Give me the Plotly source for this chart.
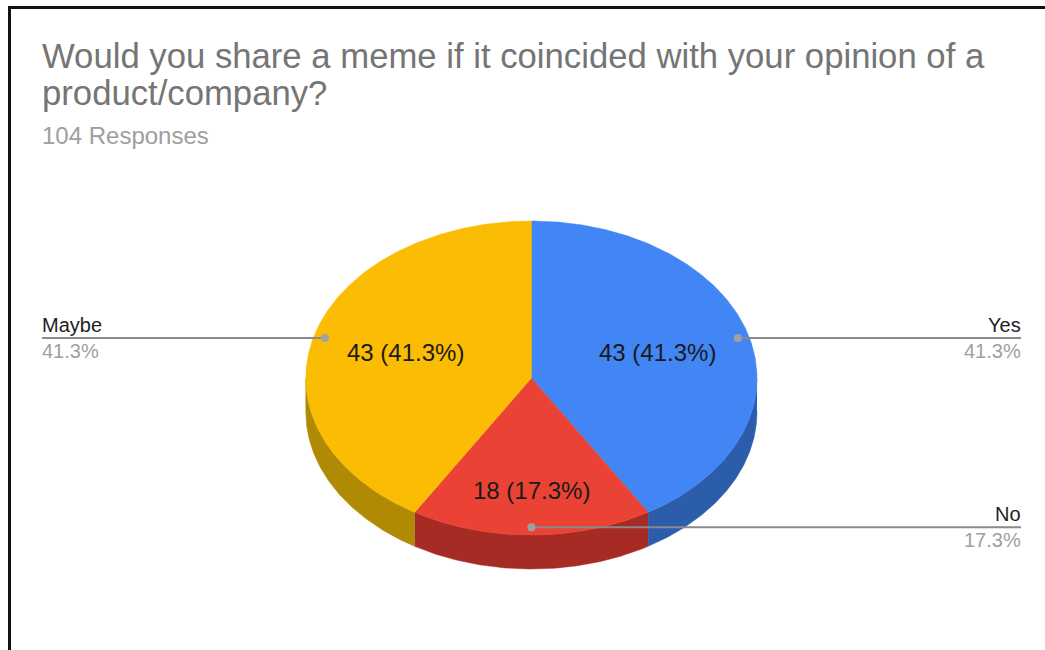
import numpy as np
import plotly.graph_objects as go

# Survey responses
labels = ["Yes", "No", "Maybe"]
values = [43, 18, 43]
top_colors = ["#4285F4", "#EA4335", "#FBBC04"]
side_colors = ["#2C5DAB", "#A52B24", "#B18A04"]

title_lines = ["Would you share a meme if it coincided with your opinion of a",
               "product/company?"]
subtitle = "104 Responses"

W, H = 1045, 650
CX, CY = 531.4, 378.0      # centre of the pie's top face (pixels)
RX, RY = 225.6, 157.0      # radii of the tilted ellipse
DEPTH = 34.0               # thickness of the pie
FONT = "Liberation Sans, Arial, sans-serif"

total = sum(values)
fracs = [v / total for v in values]


def ell(theta, drop=0.0, f=1.0):
    """Point on the ellipse; theta in radians clockwise from 12 o'clock."""
    return CX + RX * f * np.sin(theta), CY - RY * f * np.cos(theta) + drop


fig = go.Figure()

# slice boundaries (clockwise from the top)
bounds = np.concatenate([[0.0], np.cumsum(fracs)]) * 2 * np.pi

# side walls: only the front half (90..270 degrees) can be seen
for i in range(len(values)):
    a0 = max(bounds[i], np.pi / 2)
    a1 = min(bounds[i + 1], 3 * np.pi / 2)
    if a1 <= a0:
        continue
    t = np.linspace(a0, a1, 120)
    xt, yt = ell(t)
    xb, yb = ell(t[::-1], DEPTH)
    fig.add_trace(go.Scatter(
        x=np.concatenate([xt, xb]), y=np.concatenate([yt, yb]),
        fill="toself", fillcolor=side_colors[i], mode="lines",
        line=dict(width=0.5, color=side_colors[i]), hoverinfo="skip",
        showlegend=False))

# top faces
for i in range(len(values)):
    t = np.linspace(bounds[i], bounds[i + 1], 240)
    xt, yt = ell(t)
    fig.add_trace(go.Scatter(
        x=np.concatenate([[CX], xt, [CX]]), y=np.concatenate([[CY], yt, [CY]]),
        fill="toself", fillcolor=top_colors[i], mode="lines",
        line=dict(width=0.5, color=top_colors[i]), hoverinfo="skip",
        showlegend=False))

annotations = []

# value labels inside each slice
for i, v in enumerate(values):
    mid = (bounds[i] + bounds[i + 1]) / 2
    lx = CX + RX * 0.58 * np.sin(mid)
    ly = CY - RY * 0.69 * np.cos(mid) + 4
    annotations.append(dict(
        x=lx, y=ly, xref="x", yref="y", showarrow=False,
        text=f"{v} ({fracs[i] * 100:.1f}%)",
        font=dict(family=FONT, size=24, color="#1a1a1a"),
        xanchor="center", yanchor="middle"))

# leader lines with category names and shares
LEFT_X, RIGHT_X = 42, 1021
for i, name in enumerate(labels):
    mid = (bounds[i] + bounds[i + 1]) / 2
    dx, dy = ell(mid, f=0.95)
    right = np.sin(mid) >= 0
    end_x = RIGHT_X if right else LEFT_X
    fig.add_trace(go.Scatter(
        x=[dx, end_x], y=[dy, dy], mode="lines",
        line=dict(color="#8a8a8a", width=2), hoverinfo="skip",
        showlegend=False))
    fig.add_trace(go.Scatter(
        x=[dx], y=[dy], mode="markers",
        marker=dict(color="#a0a0a0", size=8), hoverinfo="skip",
        showlegend=False))
    anchor = "right" if right else "left"
    shift = 2 if right else -2
    annotations.append(dict(
        x=end_x, y=dy - 13, xref="x", yref="y", showarrow=False,
        text=name, font=dict(family=FONT, size=20, color="#222222"),
        xanchor=anchor, yanchor="middle", xshift=shift))
    annotations.append(dict(
        x=end_x, y=dy + 13, xref="x", yref="y", showarrow=False,
        text=f"{fracs[i] * 100:.1f}%",
        font=dict(family=FONT, size=20, color="#a0a0a0"),
        xanchor=anchor, yanchor="middle", xshift=shift))

# title block
for k, line in enumerate(title_lines):
    annotations.append(dict(
        x=42, y=56 + 37 * k, xref="x", yref="y", showarrow=False,
        text=line, font=dict(family=FONT, size=34.7, color="#757575"),
        xanchor="left", yanchor="middle", xshift=-2))
annotations.append(dict(
    x=42, y=135, xref="x", yref="y", showarrow=False, text=subtitle,
    font=dict(family=FONT, size=24, color="#9e9e9e"),
    xanchor="left", yanchor="middle", xshift=-2))

# frame edges
shapes = [
    dict(type="line", x0=8, x1=W, y0=7.5, y1=7.5, xref="x", yref="y",
         line=dict(color="#111111", width=3)),
    dict(type="line", x0=9.5, x1=9.5, y0=6, y1=H, xref="x", yref="y",
         line=dict(color="#111111", width=3)),
]

fig.update_layout(
    width=W, height=H,
    margin=dict(l=0, r=0, t=0, b=0),
    paper_bgcolor="white", plot_bgcolor="white",
    xaxis=dict(range=[0, W], visible=False, fixedrange=True),
    yaxis=dict(range=[H, 0], visible=False, fixedrange=True),
    annotations=annotations, shapes=shapes,
    showlegend=False,
)

fig.write_html("out.html")
